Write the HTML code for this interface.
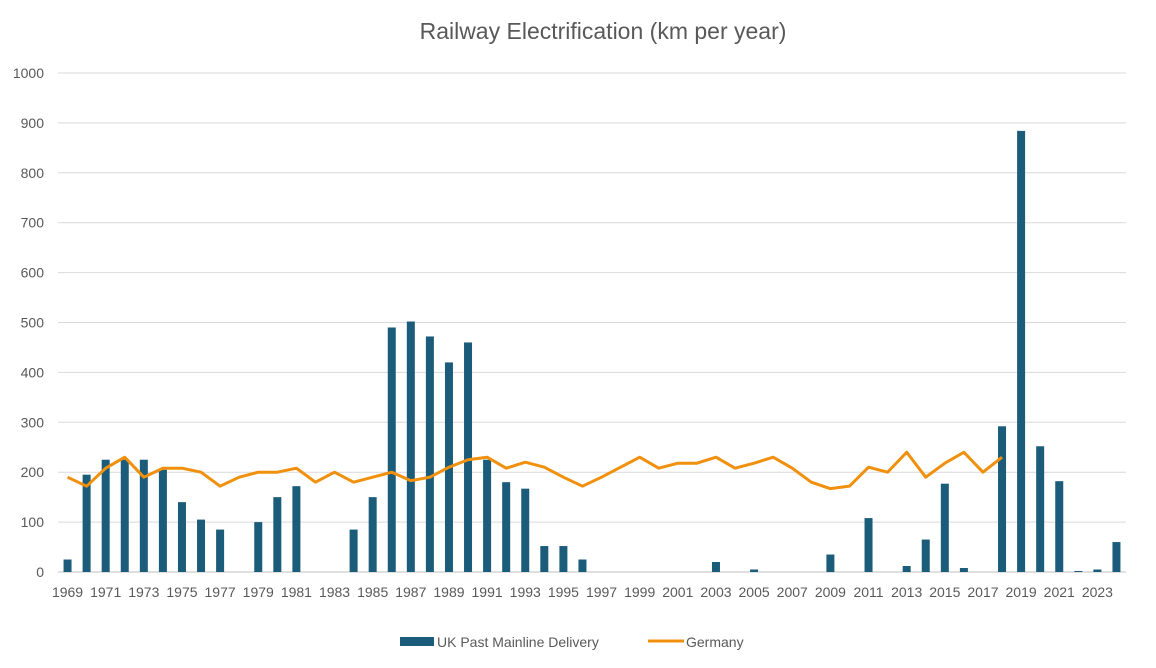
<!DOCTYPE html>
<html><head><meta charset="utf-8"><style>
body{margin:0;background:#fff;font-family:"Liberation Sans",sans-serif}
</style></head><body>
<svg id="c" width="1156" height="663" xmlns="http://www.w3.org/2000/svg">
<text x="603" y="39" text-anchor="middle" font-size="23" fill="#595959" font-family="Liberation Sans, sans-serif">Railway Electrification (km per year)</text>
<g id="grid"></g><g id="bars"></g><g id="line"></g><g id="xl"></g>
<g>
<rect x="400" y="637" width="34" height="9" fill="#1a5c7a"/>
<text x="437" y="647" font-size="14" fill="#595959">UK Past Mainline Delivery</text>
<line x1="648" y1="641" x2="684" y2="641" stroke="#f0900c" stroke-width="3"/>
<text x="686" y="647" font-size="14" fill="#595959">Germany</text>
</g>
</svg>
<script>
const years=[];for(let y=1969;y<=2024;y++)years.push(y);
const ukValues=[25,195,225,225,225,205,140,105,85,0,100,150,172,0,0,85,150,490,502,472,420,460,225,180,167,52,52,25,0,0,0,0,0,0,20,0,5,0,0,0,35,0,108,0,12,65,177,8,0,292,884,252,182,2,5,60];
const germanyValues=[190,172,208,230,190,208,208,200,172,190,200,200,208,180,200,180,190,200,183,190,210,225,230,208,220,210,190,172,190,210,230,208,218,218,230,208,218,230,208,180,167,172,210,200,240,190,218,240,200,230];
const yTicks=[0,100,200,300,400,500,600,700,800,900,1000];
const NS="http://www.w3.org/2000/svg";
const L=58,R=1126,Y0=572,Y1=73;
const bw=(R-L)/years.length;
const xc=i=>L+bw*(i+0.5);
const yv=v=>Y0-(Y0-Y1)*v/1000;
function mk(t,a,p){const e=document.createElementNS(NS,t);for(const k in a)e.setAttribute(k,a[k]);document.getElementById(p).appendChild(e);return e;}
yTicks.forEach(t=>{
 const l=mk('line',{x1:L,x2:R,y1:yv(t),y2:yv(t),stroke:t===0?'#bfbfbf':'#d9d9d9','stroke-width':1},'grid');
 
 
 const tx=mk('text',{x:44,y:yv(t)+5,'text-anchor':'end','font-size':14,fill:'#595959'},'grid');
 tx.textContent=t;
 
 
});
ukValues.forEach((v,i)=>{
 const r=mk('rect',{x:xc(i)-4,y:yv(v),width:8,height:Y0-yv(v),fill:'#1a5c7a'},'bars');
 
 
});
const pts=germanyValues.map((v,i)=>xc(i)+','+yv(v)).join(' ');
const pl=mk('polyline',{points:pts,fill:'none',stroke:'#f0900c','stroke-width':3,'stroke-linejoin':'round'},'line');


years.forEach((y,i)=>{if((y-1969)%2)return;
 const t=mk('text',{x:xc(i),y:597,'text-anchor':'middle','font-size':14,fill:'#595959'},'xl');
 t.textContent=y;
 
 
});
</script>
</body></html>
